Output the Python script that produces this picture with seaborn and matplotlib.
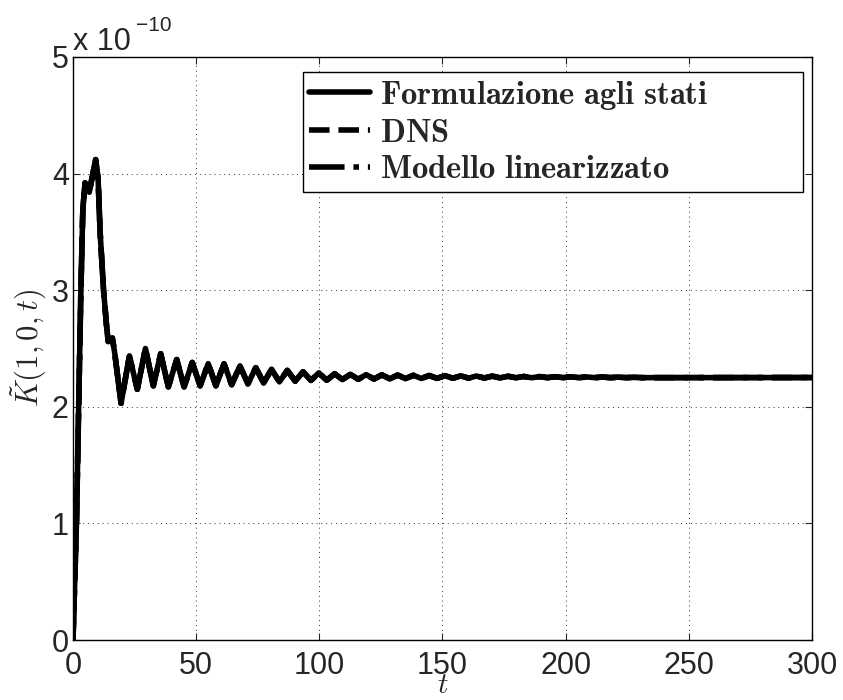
import numpy as np
import pandas as pd
import matplotlib
matplotlib.use('Agg')
import matplotlib.pyplot as plt
import seaborn as sns

# Time instants (start-up transient, then peaks/troughs of the oscillation)
t_vals = [0, 1.4, 2.3, 3.2, 4.0, 4.9, 6.6, 9.2, 10.2, 11.0, 12.4, 13.6, 14.3, 16.0, 17.0,
          19.5, 22.9, 26.1, 29.4, 32.6, 35.6, 38.7, 42.1, 45.1, 48.4, 51.6, 54.9,
          58.0, 61.3, 64.4, 67.8, 71.0, 74.2, 77.4, 80.6, 83.8, 87.0, 90.2, 93.4,
          96.6, 99.8, 103.0, 106.2, 109.4, 112.6, 115.8, 119.0, 122.2, 125.4, 128.6,
          131.8, 135.0, 138.2, 141.4, 144.6, 147.8, 151.0, 154.2, 157.4, 160.6,
          163.8, 167.0, 170.2, 173.4, 176.6, 179.8, 183.0, 186.2, 189.4, 192.6,
          195.8, 199.0, 202.2, 205.4, 208.6, 211.8, 215.0, 218.2, 221.4, 224.6,
          227.8, 231.0, 300]

# K~(1,0,t) in units of 1e-10
k_vals = [0, 1.0, 2.0, 3.0, 3.7, 3.92, 3.84, 4.12, 3.95, 3.5, 3.0, 2.7, 2.56, 2.59, 2.45,
          2.03, 2.435, 2.15, 2.50, 2.18, 2.455, 2.17, 2.405, 2.17, 2.38, 2.18, 2.37,
          2.18, 2.369, 2.19, 2.349, 2.197, 2.335, 2.205, 2.321, 2.214, 2.312, 2.22, 2.30,
          2.226, 2.291, 2.228, 2.283, 2.234, 2.278, 2.236, 2.276, 2.238, 2.274, 2.240,
          2.272, 2.242, 2.270, 2.243, 2.268, 2.244, 2.267, 2.245, 2.265, 2.246,
          2.264, 2.247, 2.263, 2.248, 2.262, 2.249, 2.260, 2.249, 2.259, 2.250,
          2.258, 2.250, 2.257, 2.250, 2.256, 2.250, 2.255, 2.250, 2.254, 2.250,
          2.253, 2.250, 2.251]

labels = [r'$\mathbf{Formulazione\ agli\ stati}$', r'$\mathbf{DNS}$',
          r'$\mathbf{Modello\ linearizzato}$']
styles = ['-', '--', '-.']

df = pd.DataFrame({'t': t_vals, 'K': k_vals})

sns.set_style('ticks')
plt.rcParams['font.family'] = ['Liberation Sans', 'DejaVu Sans']
plt.rcParams['mathtext.fontset'] = 'cm'

fig = plt.figure(figsize=(8.43, 7.0), dpi=100)
ax = fig.add_axes([0.0866, 0.0857, 0.8766, 0.8329])

for lab, ls in zip(labels, styles):
    sns.lineplot(data=df, x='t', y='K', ax=ax, color='black', linestyle=ls,
                 linewidth=4.0, label=lab, sort=False)

ax.set_xlim(0, 300)
ax.set_ylim(0, 5)
ax.set_xticks([0, 50, 100, 150, 200, 250, 300])
ax.set_yticks([0, 1, 2, 3, 4, 5])
ax.tick_params(direction='in', length=5, width=0.8, labelsize=22,
               top=True, right=True)
ax.tick_params(axis='x', pad=8)
ax.tick_params(axis='y', pad=3)
for s in ax.spines.values():
    s.set_linewidth(1.0)
    s.set_color('black')
ax.grid(True, linestyle=(0, (1, 4)), color='black', linewidth=0.7, alpha=0.8)

ax.set_xlabel(r'$t$', fontsize=21, labelpad=-7)
ax.set_ylabel(r'$\tilde{K}(1,0,t)$', fontsize=22, labelpad=2)

# offset text
fig.text(0.087, 1 - 50 / 700, 'x 10', fontsize=22, ha='left', va='baseline')
fig.text(0.161, 1 - 31 / 700, '\u221210', fontsize=15, ha='left', va='baseline')

leg = ax.legend(loc='upper left', bbox_to_anchor=(0.311, 0.763, 0.677, 0.211),
                mode='expand', fontsize=23.5,
                handlelength=1.85, handletextpad=0.3, borderpad=0.2,
                labelspacing=0.18, fancybox=False, framealpha=1,
                edgecolor='black', borderaxespad=0)
leg.get_frame().set_linewidth(1.0)

fig.savefig('out.png', dpi=100)
